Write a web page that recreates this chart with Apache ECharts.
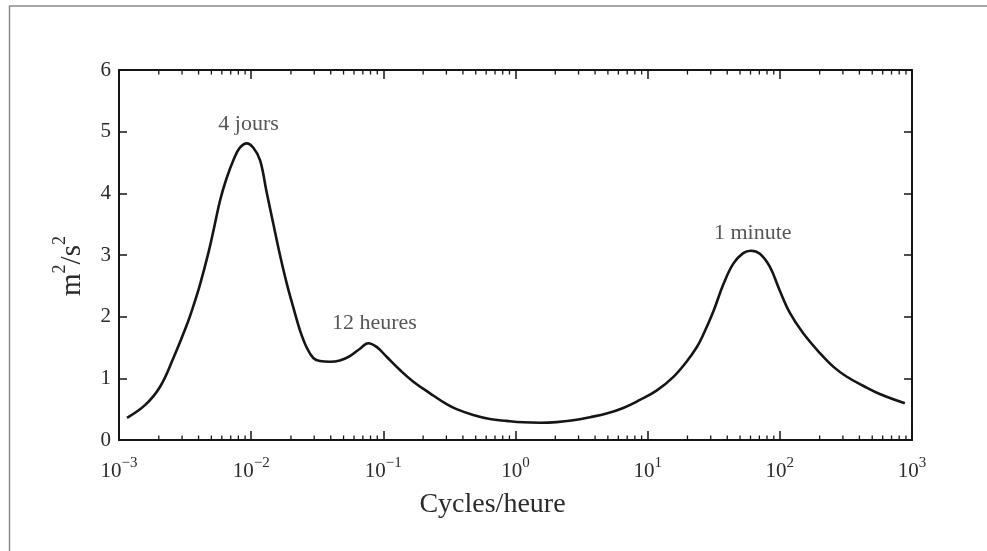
<!DOCTYPE html>
<html>
<head>
<meta charset="utf-8">
<script src="https://cdn.jsdelivr.net/npm/echarts@6/dist/echarts.min.js"></script>
<style>
  html, body { margin: 0; padding: 0; background: #fff; }
  #chart { width: 987px; height: 551px; }
</style>
</head>
<body>
<div id="chart"></div>
<script>
// Spectre d'énergie cinétique en fonction de la fréquence (cycles/heure)
const frequencies = [
  0.00115, 0.00158, 0.00204, 0.00258, 0.00325, 0.00365, 0.00410, 0.00474,
  0.00525, 0.00581, 0.00646, 0.00741, 0.00822, 0.00925, 0.01038, 0.01167,
  0.01309, 0.01469, 0.01652, 0.01858, 0.02084, 0.02339, 0.02630, 0.02951,
  0.03311, 0.03945, 0.04688, 0.05585, 0.06653, 0.07691, 0.08892, 0.1059,
  0.1337, 0.1687, 0.2254, 0.3013, 0.3581, 0.4786, 0.6397, 0.857, 1.146,
  1.531, 2.046, 2.735, 3.656, 4.887, 6.531, 8.73, 11.67, 15.6, 19.68, 23.44,
  26.36, 31.33, 37.33, 44.46, 52.84, 60.39, 70.63, 83.95, 100, 119.1, 150.3,
  200.9, 253.5, 319.2, 426.6, 570.2, 883.1
];
const energy = [
  0.36, 0.57, 0.86, 1.33, 1.86, 2.17, 2.52, 3.03,
  3.45, 3.88, 4.22, 4.56, 4.74, 4.81, 4.74, 4.54,
  4.02, 3.51, 3.00, 2.54, 2.15, 1.78, 1.50, 1.33,
  1.28, 1.27, 1.29, 1.36, 1.48, 1.57, 1.51, 1.35,
  1.135, 0.945, 0.757, 0.58, 0.50, 0.405, 0.34, 0.31, 0.287,
  0.28, 0.29, 0.32, 0.37, 0.43, 0.52, 0.65, 0.80, 1.02, 1.27, 1.50,
  1.71, 2.08, 2.52, 2.86, 3.03, 3.07, 3.02, 2.81, 2.42, 2.06, 1.73,
  1.41, 1.19, 1.03, 0.88, 0.745, 0.595
];

// Annotations of the three peaks
const peakNames = ['4 jours', '12 heures', '1 minute'];
const peakFreq = [0.00955, 0.0857, 62.4];
const peakLevel = [5.12, 1.89, 3.36];

const yTicks = [0, 1, 2, 3, 4, 5, 6];
const decades = [-3, -2, -1, 0, 1, 2, 3];

// minor tick positions (2..9 × 10^k) for the log axis
const minorTicks = [];
for (let k = 0; k < decades.length - 1; k++) {
  for (let m = 2; m <= 9; m++) minorTicks.push([m * Math.pow(10, decades[k]), 0]);
}

const FONT = '"Liberation Serif", "DejaVu Serif", serif';
const TXT = '#2b2b2b';
const INK = '#151515';

// "10" with a raised exponent: tall box for the base, short top-aligned box for the exponent
const tickRich = {
  b: { fontFamily: FONT, fontSize: 21, color: TXT, lineHeight: 30, verticalAlign: 'middle' },
  s: { fontFamily: FONT, fontSize: 15, color: TXT, lineHeight: 12, verticalAlign: 'top' }
};

const chart = echarts.init(document.getElementById('chart'));
chart.setOption({
  animation: false,
  backgroundColor: '#fff',
  graphic: [{
    type: 'rect',
    shape: { x: 9.5, y: 6, width: 1200, height: 800 },
    style: { fill: 'none', stroke: '#8a8a8a', lineWidth: 1.5 },
    silent: true
  }],
  grid: { left: 119, right: 75, top: 70, bottom: 111, containLabel: false },
  xAxis: [{
    type: 'log', logBase: 10, min: 0.001, max: 1000,
    name: 'Cycles/heure', nameLocation: 'middle', nameGap: 51,
    nameTextStyle: { fontFamily: FONT, fontSize: 28, color: TXT, padding: [0, 46, 0, 0] },
    axisLine: { onZero: false, lineStyle: { color: INK, width: 2 } },
    axisTick: { inside: true, length: 9, lineStyle: { color: INK, width: 1.5 } },
    splitLine: { show: false },
    axisLabel: {
      margin: 16,
      formatter: v => '{b|10}{s|' + String(Math.round(Math.log10(v))).replace('-', '\u2212') + '}',
      rich: tickRich
    }
  }, {
    type: 'log', logBase: 10, min: 0.001, max: 1000, position: 'top',
    axisLine: { onZero: false, lineStyle: { color: INK, width: 2 } },
    axisTick: { inside: true, length: 9, lineStyle: { color: INK, width: 1.5 } },
    axisLabel: { show: false },
    splitLine: { show: false }
  }],
  yAxis: [{
    type: 'value', min: yTicks[0], max: yTicks[yTicks.length - 1], interval: 1,
    name: '{b|m}{s|2}{b|/s}{s|2}', nameLocation: 'middle', nameGap: 26, nameRotate: 90,
    nameTextStyle: {
      color: TXT, padding: [0, 22, 0, 0],
      rich: {
        b: { fontFamily: FONT, fontSize: 29, color: TXT, lineHeight: 42, verticalAlign: 'middle' },
        s: { fontFamily: FONT, fontSize: 18, color: TXT, lineHeight: 14, verticalAlign: 'top' }
      }
    },
    axisLine: { show: true, onZero: false, lineStyle: { color: INK, width: 2 } },
    axisTick: { show: true, inside: true, length: 8, lineStyle: { color: INK, width: 1.5 } },
    axisLabel: { margin: 8, fontFamily: FONT, fontSize: 21, color: TXT },
    splitLine: { show: false }
  }, {
    type: 'value', min: yTicks[0], max: yTicks[yTicks.length - 1], interval: 1, position: 'right',
    axisLine: { show: true, onZero: false, lineStyle: { color: INK, width: 2 } },
    axisTick: { show: true, inside: true, length: 8, lineStyle: { color: INK, width: 1.5 } },
    axisLabel: { show: false },
    splitLine: { show: false }
  }],
  series: [{
    type: 'custom',
    xAxisIndex: 0, yAxisIndex: 0,
    silent: true,
    clip: false,
    data: minorTicks,
    renderItem: function (params, api) {
      const v = api.value(0);
      const b = api.coord([v, yTicks[0]]);
      const t = api.coord([v, yTicks[yTicks.length - 1]]);
      const style = { stroke: INK, lineWidth: 1.3 };
      return {
        type: 'group',
        children: [
          { type: 'line', shape: { x1: b[0], y1: b[1], x2: b[0], y2: b[1] - 4.5 }, style },
          { type: 'line', shape: { x1: t[0], y1: t[1], x2: t[0], y2: t[1] + 4.5 }, style }
        ]
      };
    }
  }, {
    type: 'line',
    xAxisIndex: 0, yAxisIndex: 0,
    data: frequencies.map((f, i) => [f, energy[i]]),
    smooth: 0.4,
    showSymbol: false,
    lineStyle: { color: INK, width: 2.6 },
    silent: true
  }, {
    type: 'scatter',
    xAxisIndex: 0, yAxisIndex: 0,
    symbolSize: 0,
    silent: true,
    data: peakNames.map((n, i) => ({ value: [peakFreq[i], peakLevel[i]], name: n })),
    label: {
      show: true, position: 'inside',
      formatter: p => p.name,
      fontFamily: FONT, fontSize: 22, color: TXT
    }
  }]
});
</script>
</body>
</html>
